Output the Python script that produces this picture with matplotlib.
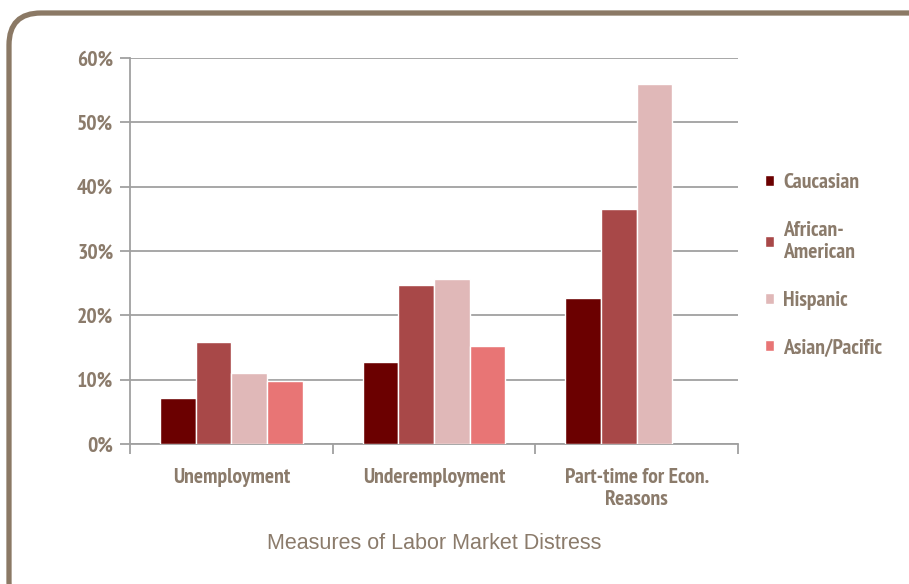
import numpy as np
import matplotlib.pyplot as plt
from matplotlib import font_manager
from matplotlib.font_manager import FontProperties
from matplotlib.patches import FancyBboxPatch
from matplotlib.ticker import PercentFormatter

# Labor market distress by group (percent)
measures = ["Unemployment", "Underemployment", "Part-time for Econ.\nReasons"]
groups = ["Caucasian", "African-\nAmerican", "Hispanic", "Asian/Pacific"]
caucasian = [7.2, 12.7, 22.7]
african_american = [15.9, 24.7, 36.5]
hispanic = [11.0, 25.6, 56.0]
asian_pacific = [9.8, 15.2, np.nan]

colors = ["#6b0000", "#a84848", "#e0b8b8", "#e87575"]
txt = "#8b7b6b"
grid_c = "#a0a0a0"


def bold_narrow_file():
    # look for a bold narrow/condensed face; fall back to any bold sans
    def is_bold(f):
        wt = f.weight
        if isinstance(wt, str):
            wt = font_manager.weight_dict.get(wt, 400)
        return wt >= 600 and f.style == "normal"
    entries = font_manager.fontManager.ttflist
    for key in ("Liberation Sans Narrow", "Narrow", "Condensed"):
        hits = [f for f in entries if key in f.name and is_bold(f)]
        if hits:
            return hits[0].fname
    return font_manager.findfont(FontProperties(family="Liberation Sans", weight="bold"))


fig = plt.figure(figsize=(9.09, 5.84), dpi=100)

# size the label face so "Unemployment" spans about 118 px
lab_file = bold_narrow_file()
probe = fig.text(0, 0, "Unemployment", fontproperties=FontProperties(fname=lab_file, size=10))
fig.canvas.draw()
lab_size = 10 * 118 / probe.get_window_extent().width
probe.remove()
lab_fp = FontProperties(fname=lab_file, size=lab_size)

ax = fig.add_axes([0.143, 0.2397, 0.669, 0.661])

x = np.arange(len(measures))
w = 0.176
series = [caucasian, african_american, hispanic, asian_pacific]
for i, (vals, lab, c) in enumerate(zip(series, groups, colors)):
    ax.bar(x + (i - 1.5) * w, vals, width=w, color=c, label=lab,
           edgecolor="white", linewidth=1.0, zorder=3)

ax.set_xlim(-0.5, 2.5)
ax.set_ylim(0, 60)
ax.set_yticks(np.arange(0, 61, 10))
ax.yaxis.set_major_formatter(PercentFormatter(decimals=0))
ax.yaxis.grid(True, color=grid_c, linewidth=1.3, zorder=0)
ax.set_axisbelow(True)

# category ticks sit between groups, labels centered under groups
ax.set_xticks([-0.5, 0.5, 1.5, 2.5])
ax.set_xticklabels([])
ax.set_xticks(x, minor=True)
ax.set_xticklabels(measures, minor=True)
ax.tick_params(axis="x", which="major", length=7, width=1.3, color=grid_c, direction="out")
ax.tick_params(axis="x", which="minor", length=0, pad=17)
ax.tick_params(axis="y", length=7, width=1.3, color=grid_c, direction="out", pad=5)

for lbl in ax.get_xticklabels(minor=True) + ax.get_yticklabels():
    lbl.set_fontproperties(lab_fp)
    lbl.set_color(txt)
    lbl.set_linespacing(1.25)

for s in ["top", "right"]:
    ax.spines[s].set_visible(False)
for s in ["left", "bottom"]:
    ax.spines[s].set_color(grid_c)
    ax.spines[s].set_linewidth(1.3)

ax.set_xlabel("Measures of Labor Market Distress", fontsize=15.5, color=txt,
              family=["Liberation Sans", "DejaVu Sans"], labelpad=17)

leg = ax.legend(loc="upper left", bbox_to_anchor=(1.012, 0.752), frameon=False,
                handlelength=0.4, handleheight=0.4, handletextpad=0.45,
                labelspacing=1.33, prop=lab_fp)
for t in leg.get_texts():
    t.set_color(txt)

# rounded frame around the chart, in inches from the lower-left corner
frame = FancyBboxPatch((0.09, -0.3), 9.4, 6.01, transform=fig.dpi_scale_trans,
                       boxstyle="round,pad=0,rounding_size=0.32",
                       facecolor="none", edgecolor="#8b7965", linewidth=3.8,
                       clip_on=False)
fig.patches.append(frame)

fig.savefig("out.png", dpi=100)
